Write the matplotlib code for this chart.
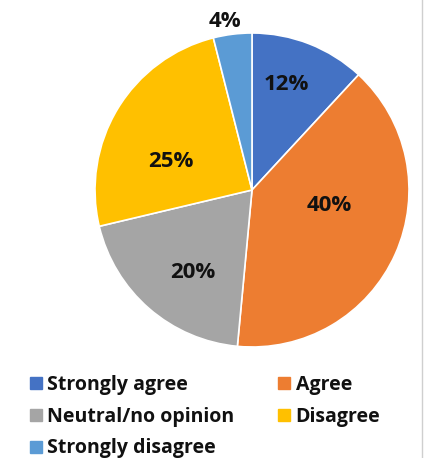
import numpy as np
import matplotlib.pyplot as plt
from matplotlib.lines import Line2D

# Daten
kategorien = ['Strongly agree', 'Agree', 'Neutral/no opinion', 'Disagree', 'Strongly disagree']
anteile = [12, 40, 20, 25, 4]
farben = ['#4472C4', '#ED7D31', '#A5A5A5', '#FFC000', '#5B9BD5']
# Lage der Beschriftung: Abstand (relativ zum Radius) und Winkelversatz in Grad
label_abst = [0.71, 0.50, 0.645, 0.55, 1.09]
label_dreh = [3.2, 12.6, 5.4, 11.8, 2.0]

plt.rcParams['font.family'] = ['Open Sans', 'DejaVu Sans']

fig = plt.figure(figsize=(4.24, 4.58), dpi=100)
W, H = 424, 458
cx, cy, r = 252, 190, 157
ax = fig.add_axes([(cx - r) / W, (H - cy - r) / H, 2 * r / W, 2 * r / H])

wedges, _ = ax.pie(anteile, colors=farben, startangle=90, counterclock=False,
                   wedgeprops=dict(edgecolor='white', linewidth=1.2))
ax.set_xlim(-1, 1)
ax.set_ylim(-1, 1)
ax.set_aspect('equal')
ax.axis('off')

for w, p, d, dw in zip(wedges, anteile, label_abst, label_dreh):
    ang = np.deg2rad((w.theta1 + w.theta2) / 2 + dw)
    ax.text(d * np.cos(ang), d * np.sin(ang), f'{p}%', ha='center', va='center',
            fontsize=16, fontweight='bold', color='#111111', clip_on=False)

# Legende (zeilenweise wie im Original)
reihenfolge = [0, 2, 4, 1, 3]
handles = [Line2D([], [], marker='s', linestyle='', markersize=9,
                  markerfacecolor=farben[i], markeredgecolor=farben[i]) for i in reihenfolge]
leg = fig.legend(handles, [kategorien[i] for i in reihenfolge], loc='upper left',
                 bbox_to_anchor=(0.052, 0.198), ncol=2, frameon=False,
                 prop=dict(size=14, weight='bold'),
                 handlelength=0.6, handletextpad=0.3, columnspacing=2.25,
                 labelspacing=0.6, borderaxespad=0)
for t in leg.get_texts():
    t.set_color('#111111')

# rechter Rand
fig.add_artist(Line2D([421.5 / W, 421.5 / W], [0, 1], color='#CFCFCF', linewidth=1))

fig.savefig('out.png', dpi=100)
